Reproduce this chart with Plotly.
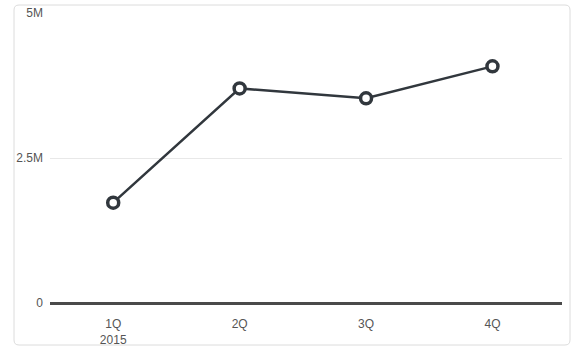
import plotly.graph_objects as go

categories = ["1Q<br>2015", "2Q", "3Q", "4Q"]
values = [1730000, 3700000, 3530000, 4080000]
y_tickvals = [0, 2500000, 5000000]
y_ticktext = ["0", "2.5M", "5M"]

W, H = 578, 353
L, R, T, B = 50, 16, 13, 50
pw, ph = W - L - R, H - T - B

def px_x(x):
    return (x - L) / pw

def px_y(y):
    return (H - B - y) / ph

x0, x1, y0, y1 = px_x(14), px_x(570), px_y(345), px_y(5)
rx, ry = 5 / pw, 5 / ph
path = (f"M {x0+rx},{y1} L {x1-rx},{y1} Q {x1},{y1} {x1},{y1-ry} "
        f"L {x1},{y0+ry} Q {x1},{y0} {x1-rx},{y0} L {x0+rx},{y0} "
        f"Q {x0},{y0} {x0},{y0+ry} L {x0},{y1-ry} Q {x0},{y1} {x0+rx},{y1} Z")

line_color = "#31373d"

fig = go.Figure(go.Scatter(
    x=list(range(len(categories))), y=values, mode="lines+markers",
    line=dict(color=line_color, width=2.5),
    marker=dict(size=11, color="white", line=dict(color=line_color, width=3.5)),
    hoverinfo="skip",
))

fig.update_layout(
    width=W, height=H,
    margin=dict(l=L, r=R, t=T, b=B),
    paper_bgcolor="white", plot_bgcolor="white",
    showlegend=False,
    font=dict(family="Liberation Sans, Arial, sans-serif", size=12, color="#555555"),
    xaxis=dict(
        range=[-0.5, 3.55], tickmode="array",
        tickvals=list(range(len(categories))), ticktext=categories,
        showgrid=False, zeroline=False, showline=False, ticks="",
        ticklabelstandoff=12, automargin=False,
    ),
    yaxis=dict(
        range=[0, 5000000], tickmode="array", tickvals=y_tickvals, ticktext=y_ticktext,
        showgrid=True, gridcolor="#e8e8e8", gridwidth=1,
        zeroline=True, zerolinecolor="#4a4a4a", zerolinewidth=3,
        showline=False, ticks="", ticklabelstandoff=6, automargin=False,
    ),
    shapes=[dict(type="path", xref="paper", yref="paper", path=path,
                 line=dict(color="#dcdcdc", width=1), fillcolor="rgba(0,0,0,0)",
                 layer="below")],
)

fig.write_html("out.html")
